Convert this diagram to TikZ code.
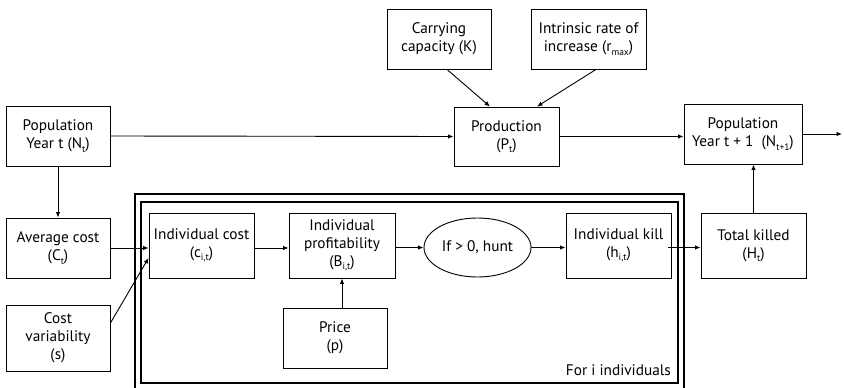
\documentclass[tikz,border=0pt]{standalone}
\usepackage{fontspec}
\setmainfont{PT Sans}
\usetikzlibrary{arrows.meta,shapes.geometric}
\newcommand{\lsub}[1]{\raisebox{-0.45ex}{\fontsize{9.5}{10}\selectfont #1}}
\begin{document}
\begin{tikzpicture}[x=1pt,y=-1pt,
  font=\fontsize{15.3}{18}\selectfont,
  box/.style={draw, line width=0.9pt, align=center, inner sep=1pt},
  frame/.style={draw, line width=1.2pt},
  link/.style={line width=0.9pt, -{Latex[length=5.5pt,width=4.5pt]}}]
\useasboundingbox (0,0) rectangle (844,388);

% loop over individual hunters
\draw[frame] (135,392) -- (135,194) -- (684,194) -- (684,392);
\draw[frame] (141,202) rectangle (678,383);
\node[anchor=base east, inner sep=0pt] (forlabel) at (671,375) {For i individuals};

% population dynamics
\node[box, minimum width=104, minimum height=60] (popt) at (58,136) {Population\\Year t (N\lsub{t})};
\node[box, minimum width=104, minimum height=60] (carry) at (439,39) {Carrying\\capacity (K)};
\node[box, minimum width=115, minimum height=60] (rmax) at (588.5,39) {Intrinsic rate of\\increase (r\lsub{max})};
\node[box, minimum width=105, minimum height=59] (prod) at (506.5,136.5) {Production\\(P\lsub{t})};
\node[box, minimum width=118, minimum height=60] (popt1) at (743,134) {Population\\Year t + 1\ \ (N\lsub{t+1})};

% harvest
\node[box, minimum width=104, minimum height=60] (avg) at (58,248) {Average cost\\(C\lsub{t})};
\node[box, minimum width=104, minimum height=66] (costvar) at (58,338) {Cost\\variability\\(s)};
\node[box, minimum width=105, minimum height=65] (indcost) at (201.5,245.5) {Individual cost\\(c\lsub{i,t})};
\node[box, minimum width=106, minimum height=65] (profit) at (342,245.5) {Individual\\profitability\\(B\lsub{i,t})};
\node[box, ellipse, minimum width=107, minimum height=59, inner sep=0pt] (hunt) at (477.5,247.5) {If > 0, hunt};
\node[box, minimum width=105, minimum height=65] (kill) at (618.5,245.5) {Individual kill\\(h\lsub{i,t})};
\node[box, minimum width=105, minimum height=65] (total) at (753.5,245.5) {Total killed\\(H\lsub{t})};
\node[box, minimum width=104, minimum height=60] (price) at (335,338) {Price\\(p)};
\coordinate (next) at (842,134);

% connectors
\draw[link] (popt.east) -- (prod.west);
\draw[link] ([xshift=8]carry.south) -- ([xshift=-16.5]prod.north);
\draw[link] ([xshift=7.5]rmax.south) -- ([xshift=30.5]prod.north);
\draw[link] (prod.east) -- (prod.east -| popt1.west);
\draw[link] (popt1.east) -- (next);
\draw[link] (popt.south) -- (avg.north);
\draw[link] (avg.east) -- (avg.east -| indcost.west);
\draw[link] ([yshift=15]costvar.east) -- ([yshift=-12.5]indcost.west);
\draw[link] (indcost.east |- avg.east) -- (indcost.east |- avg.east -| profit.west);
\draw[link] (profit.east |- hunt.west) -- (hunt.west);
\draw[link] (hunt.east) -- (hunt.east -| kill.west);
\draw[link] ([xshift=-3]kill.east |- hunt.east) -- (hunt.east -| total.west);
\draw[link] (price.north -| profit.south) -- (profit.south);
\draw[link] (total.north) -- (total.north |- popt1.south);
\end{tikzpicture}
\end{document}
